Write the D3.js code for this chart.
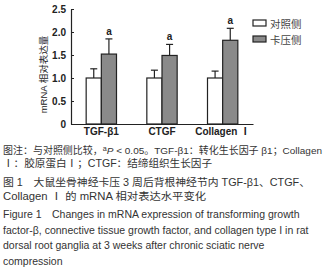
<!DOCTYPE html>
<html><head><meta charset="utf-8">
<script src="https://cdn.jsdelivr.net/npm/d3@7"></script>
<style>
html,body{margin:0;padding:0;background:#fff;}
svg{display:block;}
</style></head>
<body>
<svg id="c" width="326" height="272"></svg>
<script>
const categories = ["TGF-β1", "CTGF", "Collagen Ⅰ"];
const seriesNames = ["对照侧", "卡压侧"];
const controlMean = [1.0, 1.0, 1.0];
const controlErr = [0.2, 0.17, 0.15];
const compressMean = [1.52, 1.49, 1.82];
const compressErr = [0.33, 0.24, 0.26];
const sigLabels = ["a", "a", "a"];
const yTicks = [0, 0.5, 1.0, 1.5, 2.0, 2.5];
const yTickLabels = ["0", "0.5", "1.0", "1.5", "2.0", "2.5"];
const yLabel = "mRNA 相对表达量";
// each caption line: array of [text, style] segments
const captionLines = [
  [["图注：与对照侧比较，", ""], ["a", "sup"], ["P", "it"], [" < 0.05。TGF-β1：转化生长因子 β1；Collagen", ""]],
  [["Ⅰ：胶原蛋白Ⅰ；CTGF：结缔组织生长因子", ""]],
  [["图 1　大鼠坐骨神经卡压 3 周后背根神经节内 TGF-β1、CTGF、", ""]],
  [["Collagen Ⅰ 的 mRNA 相对表达水平变化", ""]],
  [["Figure 1　Changes in mRNA expression of transforming growth", ""]],
  [["factor-β, connective tissue growth factor, and collagen type I in rat", ""]],
  [["dorsal root ganglia at 3 weeks after chronic sciatic nerve", ""]],
  [["compression", ""]]
];
const colors = ["#ffffff", "#8a8a8a"];

const svg = d3.select("#c");
const mLeft = 71, mRight = 253, mTop = 9, mBottom = 124;
const x = d3.scaleBand().domain(categories).range([mLeft, mRight]).paddingInner(0.5).paddingOuter(0.25);
const xs = d3.scaleBand().domain([0, 1]).range([0, x.bandwidth()]);
const y = d3.scaleLinear().domain([0, 2.5]).range([mBottom, mTop]);

const sans = "'Liberation Sans', Arial, 'Noto Sans CJK SC', sans-serif";
const cjk = "'Liberation Sans', 'Noto Sans CJK SC', sans-serif";

// y axis
const yAxis = d3.axisLeft(y).tickValues(yTicks).tickFormat((d, i) => yTickLabels[i]).tickSizeInner(-3).tickSizeOuter(0).tickPadding(5);
const gy = svg.append("g").attr("transform", `translate(${mLeft},0)`).call(yAxis);
gy.select(".domain").attr("stroke", "#222").attr("stroke-width", 1.2);
gy.selectAll(".tick line").attr("stroke", "#222").attr("stroke-width", 1);
gy.selectAll(".tick text").attr("font-family", sans).attr("font-size", 10).attr("font-weight", "bold").attr("fill", "#222");

// x axis
const xAxis = d3.axisBottom(x).tickSize(0).tickPadding(4);
const gx = svg.append("g").attr("transform", `translate(0,${mBottom})`).call(xAxis);
gx.select(".domain").attr("stroke", "#222").attr("stroke-width", 1.2);
gx.selectAll(".tick text").attr("font-family", sans).attr("font-size", 10).attr("font-weight", "bold").attr("fill", "#222");

// bars
const data = categories.map((c, i) => ({c, i, vals: [[controlMean[i], controlErr[i]], [compressMean[i], compressErr[i]]]}));
const groups = svg.append("g").selectAll("g").data(data).join("g")
  .attr("transform", d => `translate(${x(d.c)},0)`);
groups.each(function(d) {
  const g = d3.select(this);
  d.vals.forEach((v, s) => {
    const bx = xs(s), bw = xs.bandwidth();
    const cx = bx + bw / 2;
    g.append("line").attr("x1", cx).attr("x2", cx).attr("y1", y(v[0])).attr("y2", y(v[0] + v[1])).attr("stroke", "#222").attr("stroke-width", 1.2);
    g.append("line").attr("x1", cx - 3.5).attr("x2", cx + 3.5).attr("y1", y(v[0] + v[1])).attr("y2", y(v[0] + v[1])).attr("stroke", "#222").attr("stroke-width", 1.2);
    g.append("rect").attr("x", bx).attr("y", y(v[0])).attr("width", bw).attr("height", y(0) - y(v[0]))
      .attr("fill", colors[s]).attr("stroke", "#222").attr("stroke-width", 1.2);
    if (s === 1) {
      g.append("text").attr("x", cx).attr("y", y(v[0] + v[1]) - 4).attr("text-anchor", "middle")
        .attr("font-family", sans).attr("font-size", 10).attr("font-weight", "bold").attr("fill", "#222").text(sigLabels[d.i]);
    }
  });
});

// y label
svg.append("text").attr("transform", `translate(47,${(mTop + mBottom) / 2 + 8}) rotate(-90)`).attr("text-anchor", "middle")
  .attr("font-family", cjk).attr("font-size", 9.5).attr("fill", "#222").text(yLabel);

// legend
const lg = svg.append("g").attr("transform", "translate(253,20)");
seriesNames.forEach((n, i) => {
  lg.append("rect").attr("x", 0).attr("y", i * 16).attr("width", 13).attr("height", 6).attr("fill", colors[i]).attr("stroke", "#222").attr("stroke-width", 1.2);
  lg.append("text").attr("x", 17).attr("y", i * 16 + 7.5).attr("font-family", "'Noto Sans CJK SC', sans-serif").attr("font-size", 10.5).attr("fill", "#444").text(n);
});

// caption
const capY = [154, 167, 186, 199.5, 218, 234, 249, 265];
const capFs = [9.7, 10.5, 10.5, 10.5, 10.5, 10.5, 10.5, 10.5];
const capW = [319, 209, 307, 203, null, null, null, null];
captionLines.forEach((segs, i) => {
  const t = svg.append("text").attr("x", 3).attr("y", capY[i]).attr("font-family", cjk).attr("font-size", capFs[i]).attr("fill", "#333");
  segs.forEach(([s, st]) => {
    const ts = t.append("tspan").text(s);
    if (st === "sup") ts.attr("font-size", 7).attr("baseline-shift", "super");
    if (st === "it") ts.attr("font-style", "italic");
  });
  if (capW[i]) t.attr("textLength", capW[i]).attr("lengthAdjust", "spacingAndGlyphs");
});
</script>
</body></html>
